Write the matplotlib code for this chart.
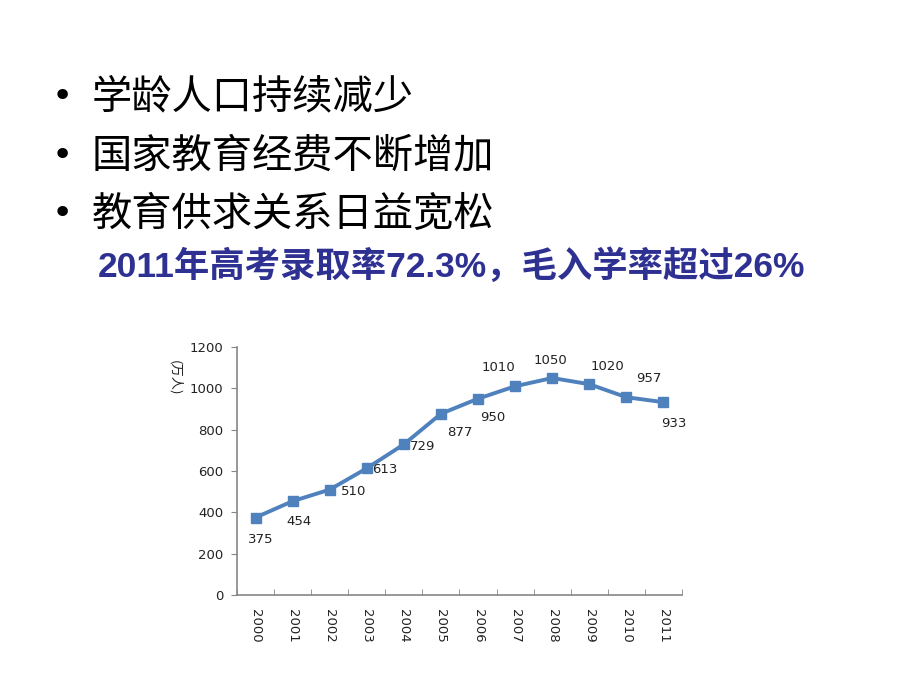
import matplotlib
matplotlib.use('Agg')
import matplotlib.pyplot as plt

plt.rcParams['font.family'] = ['Noto Sans CJK SC', 'DejaVu Sans']

years = ['2000', '2001', '2002', '2003', '2004', '2005',
         '2006', '2007', '2008', '2009', '2010', '2011']
students = [375, 454, 510, 613, 729, 877, 950, 1010, 1050, 1020, 957, 933]
bullets = ['学龄人口持续减少', '国家教育经费不断增加', '教育供求关系日益宽松']
highlight = '2011年高考录取率72.3%，毛入学率超过26%'
y_label = '(万人)'
y_ticks = [0, 200, 400, 600, 800, 1000, 1200]

# label offsets in pixels (dx, dy), matching the original placement
label_offsets = [(5, -22), (6, -20), (24, -2), (18, -1), (19, -2), (19, -19),
                 (15, -19), (-17, 19), (-2, 18), (18, 18), (22, 19), (10, -21)]

fig = plt.figure(figsize=(9.2, 6.9), dpi=100)
fig.patch.set_facecolor('white')

# slide text
for i, line in enumerate(bullets):
    y = 1 - (97 + 58.5 * i) / 690
    fig.text(62 / 920, y, '•', fontsize=26, va='center', ha='center',
             family=['DejaVu Sans'])
    fig.text(92 / 920, y, line, fontsize=29, va='center', ha='left')
fig.text(98 / 920, 1 - 266 / 690, highlight, fontsize=25.5, fontweight='bold',
         color='#2E3192', va='center', ha='left',
         family=['Liberation Sans', 'Noto Sans CJK SC'])

# chart
ax = fig.add_axes([237 / 920, 1 - 595 / 690, 445 / 920, 248 / 690])
x = list(range(len(years)))
ax.plot(x, students, color='#4F81BD', linewidth=2.8, marker='s',
        markersize=7, markerfacecolor='#4F81BD', markeredgecolor='#4F81BD')
for xi, v, (dx, dy) in zip(x, students, label_offsets):
    ax.annotate(str(v), (xi, v), xytext=(dx, dy), textcoords='offset pixels',
                ha='center', va='center', fontsize=9.5, color='#222222',
                family=['DejaVu Sans'])

ax.set_xlim(-0.5, len(years) - 0.5)
ax.set_ylim(0, 1200)
ax.set_yticks(y_ticks)
ax.set_yticklabels([str(t) for t in y_ticks], fontsize=9.5, color='#222222',
                   family=['DejaVu Sans'])
ax.tick_params(axis='y', direction='out', length=4, color='#868686', pad=6)
ax.set_xticks([i + 0.5 for i in x[:-1]] + [-0.5, len(years) - 0.5], minor=True)
ax.set_xticks(x)
ax.set_xticklabels(years, rotation=270, fontsize=9.5, color='#222222',
                   family=['DejaVu Sans'])
ax.tick_params(axis='x', which='major', length=0, pad=10)
ax.tick_params(axis='x', which='minor', direction='in', length=4,
               color='#868686')
for side in ['top', 'right']:
    ax.spines[side].set_visible(False)
for side in ['left', 'bottom']:
    ax.spines[side].set_color('#868686')
    ax.spines[side].set_linewidth(1.2)
ax.set_facecolor('white')

fig.text(175 / 920, 1 - 378 / 690, y_label, rotation=270, fontsize=9.5,
         va='center', ha='center', color='#222222')

fig.savefig('out.png', dpi=100, facecolor='white')
